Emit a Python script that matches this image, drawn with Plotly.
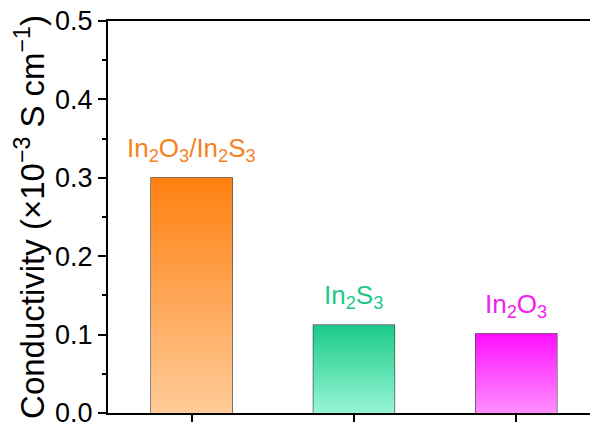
import plotly.graph_objects as go

categories = ["In2O3/In2S3", "In2S3", "In2O3"]
labels = ["In<sub>2</sub>O<sub>3</sub>/In<sub>2</sub>S<sub>3</sub>", "In<sub>2</sub>S<sub>3</sub>", "In<sub>2</sub>O<sub>3</sub>"]
values = [0.300, 0.112, 0.101]
top_colors = ["#FF8010", "#1ACB88", "#FF10FF"]
bottom_colors = ["#FFCB98", "#98F5D5", "#FF8EFF"]
label_colors = ["#F5821F", "#1DC98A", "#F020F0"]

bar_w = 0.5
xpos = list(range(len(categories)))
FONT = "Arial, Liberation Sans, sans-serif"

fig = go.Figure()
for i, v in enumerate(values):
    x0, x1 = xpos[i] - bar_w / 2, xpos[i] + bar_w / 2
    fig.add_trace(go.Scatter(
        x=[x0, x1, x1, x0, x0], y=[0, 0, v, v, 0],
        mode="lines", line=dict(width=0), fill="toself",
        fillgradient=dict(type="vertical", start=0, stop=v,
                          colorscale=[[0, bottom_colors[i]], [1, top_colors[i]]]),
        hoverinfo="skip", showlegend=False))

fig.add_trace(go.Bar(
    x=xpos, y=values, width=bar_w,
    marker=dict(color="rgba(0,0,0,0)", line=dict(color="#333333", width=1.2)),
    showlegend=False))

for i, v in enumerate(values):
    fig.add_annotation(x=xpos[i], y=v, text=labels[i], showarrow=False,
                       yanchor="bottom", yshift=10,
                       font=dict(family=FONT, size=26, color=label_colors[i]))

fig.update_layout(
    width=590, height=432,
    margin=dict(l=108, r=0, t=21, b=19),
    plot_bgcolor="white", paper_bgcolor="white",
    barmode="overlay",
    font=dict(family=FONT, color="black"),
)
fig.update_xaxes(range=[-0.515, 2.454], tickvals=xpos, ticktext=["", "", ""],
                 ticks="outside", ticklen=7, tickwidth=2, tickcolor="black",
                 showline=True, linewidth=2, linecolor="black", mirror=True,
                 showgrid=False, zeroline=False)
fig.update_yaxes(range=[0, 0.5], tickvals=[0, 0.1, 0.2, 0.3, 0.4, 0.5],
                 ticktext=["0.0", "0.1", "0.2", "0.3", "0.4", "0.5"],
                 ticks="outside", ticklen=8, tickwidth=2, tickcolor="black",
                 minor=dict(dtick=0.05, ticks="outside", ticklen=4, tickwidth=2, tickcolor="black"),
                 showline=True, linewidth=2, linecolor="black",
                 showgrid=False, zeroline=False,
                 tickfont=dict(size=27, family=FONT),
                 title=dict(text="Conductivity (×10<sup>−3</sup> S cm<sup>−1</sup>)",
                            font=dict(size=33, family=FONT), standoff=1))

fig.write_html("out.html")
